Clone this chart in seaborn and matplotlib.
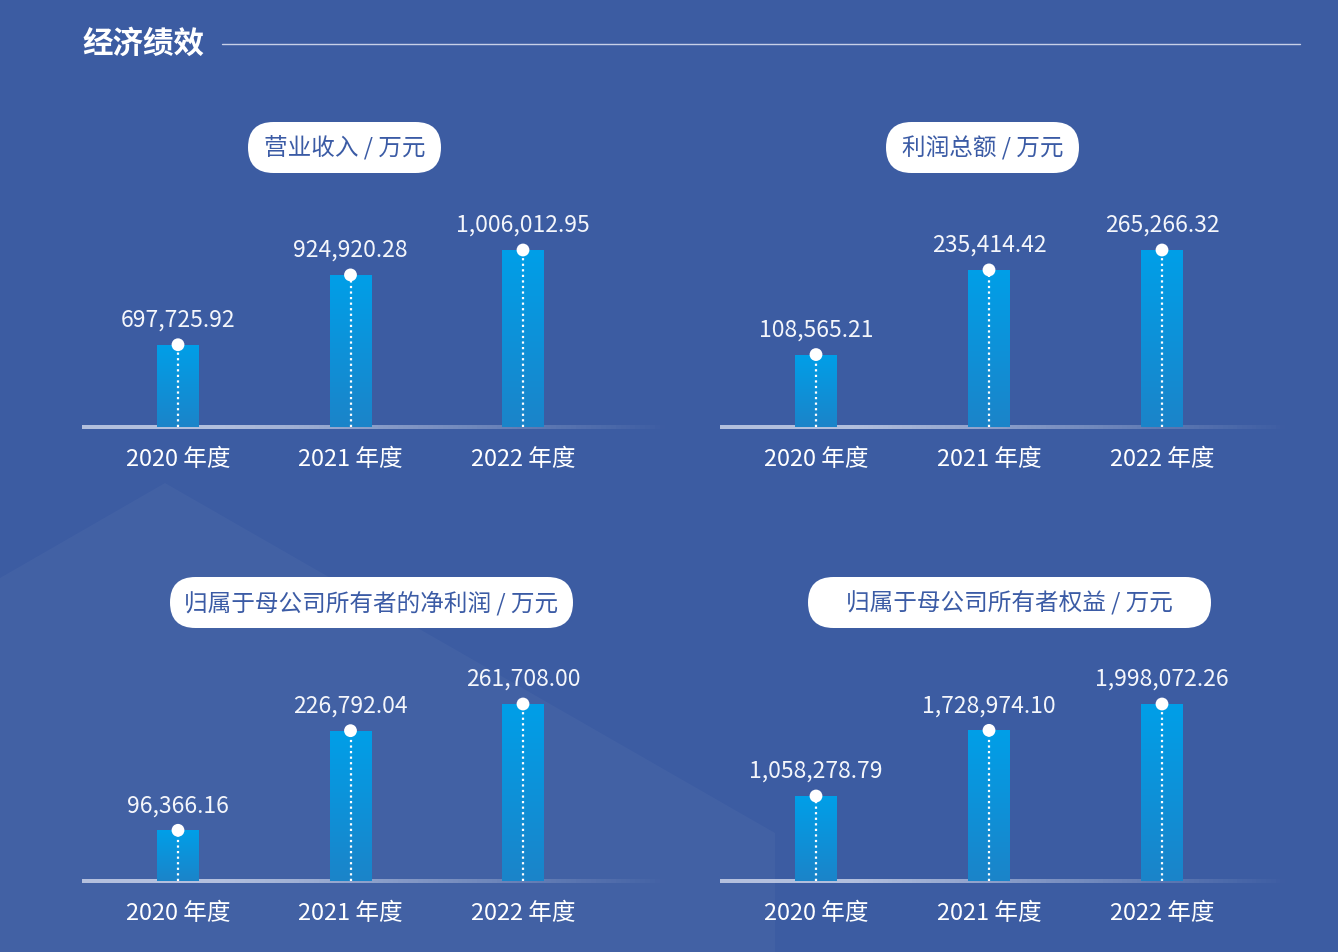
import matplotlib
matplotlib.use("Agg")
import matplotlib.pyplot as plt
import seaborn as sns
import numpy as np
from matplotlib.patches import FancyBboxPatch, Polygon
from matplotlib.collections import LineCollection

sns.set_style("white")
plt.rcParams['font.family'] = ['Noto Sans CJK SC', 'DejaVu Sans']

# data
years = ["2020 年度", "2021 年度", "2022 年度"]
revenue = [697725.92, 924920.28, 1006012.95]
total_profit = [108565.21, 235414.42, 265266.32]
net_profit = [96366.16, 226792.04, 261708.00]
equity = [1058278.79, 1728974.10, 1998072.26]
titles = ["营业收入 / 万元", "利润总额 / 万元",
          "归属于母公司所有者的净利润 / 万元", "归属于母公司所有者权益 / 万元"]
page_title = "经济绩效"

W, H = 1338, 952
BG = "#3c5ca2"
fig = plt.figure(figsize=(W / 100, H / 100), dpi=100, facecolor=BG)

# background layer in pixel coordinates
bg = fig.add_axes([0, 0, 1, 1], zorder=-1)
bg.set_xlim(0, W)
bg.set_ylim(H, 0)
bg.axis("off")
bg.add_patch(Polygon([(0, 578), (165, 483), (775, 833), (775, H), (0, H)],
                     closed=True, fc="white", ec="none", alpha=0.03))
bg.text(82, 44, page_title, color="white", fontsize=22, fontweight="bold",
        ha="left", va="center")
bg.plot([222, 1300], [44, 44], color="#c8d0e8", lw=1)

# panel layout: (left px, right px, baseline px, centre of first bar, spacing, ymin, pill box)
panels = [
    (82, 670, 427, 178, 172.5, 430000, (248, 441, 122, 173)),
    (720, 1290, 427, 816, 173.0, 0, (886, 1079, 122, 173)),
    (82, 670, 881, 178, 172.5, 30000, (170, 573, 577, 628)),
    (720, 1290, 881, 816, 173.0, 190000, (808, 1211, 577, 628)),
]
series = [revenue, total_profit, net_profit, equity]

grad = np.linspace(0, 1, 256).reshape(-1, 1)
cmap = matplotlib.colors.LinearSegmentedColormap.from_list("bar", ["#1b84c9", "#009fe8"])

for (x0, x1, base, c0, step, ymin, pill), vals, title in zip(panels, series, titles):
    ax = fig.add_axes([x0 / W, (H - base) / H, (x1 - x0) / W, 177 / H])
    ax.set_facecolor("none")
    sns.barplot(x=years, y=vals, ax=ax, width=0.24, color="#0e93dc",
                saturation=1, edgecolor="none")
    xl = ((x0 - c0) / step, (x1 - c0) / step)
    yl = (ymin, max(vals))
    for p in ax.patches:
        bx, bw = p.get_x(), p.get_width()
        im = ax.imshow(grad, cmap=cmap, aspect="auto", origin="lower",
                       extent=(bx, bx + bw, ymin, p.get_height()), zorder=2)
        im.set_clip_path(p)
    for i, v in enumerate(vals):
        ax.plot([i, i], [ymin, v], color="white", lw=1.6,
                linestyle=(0, (1, 1.5)), zorder=3)
        ax.scatter([i], [v], s=85, color="white", zorder=4, clip_on=False,
                   edgecolor="none")
        ax.annotate(f"{v:,.2f}", (i, v), xytext=(0, 13), textcoords="offset points",
                    ha="center", va="baseline", color="#f4f6fb", fontsize=16.5,
                    fontweight="light", annotation_clip=False)
    ax.set_xlim(*xl)
    ax.set_ylim(*yl)
    ax.set_yticks([])
    ax.set_xlabel("")
    ax.tick_params(axis="x", length=0, pad=15, labelsize=17, labelcolor="white")
    sns.despine(ax=ax, left=True, bottom=True)

    # fading baseline
    xs = np.linspace(x0, x1, 120)
    segs = [[(xs[k], base), (xs[k + 1], base)] for k in range(len(xs) - 1)]
    alphas = np.clip(1.3 - np.linspace(0, 1, len(segs)) * 1.3, 0, 1) * 0.8
    cols = [(0.82, 0.85, 0.93, a) for a in alphas]
    bg.add_collection(LineCollection(segs, colors=cols, linewidths=1.6,
                                     capstyle="butt", antialiaseds=False))

    # pill title
    px0, px1, py0, py1 = pill
    r = (py1 - py0) / 2
    bg.add_patch(FancyBboxPatch((px0, py0), px1 - px0, py1 - py0,
                                boxstyle=f"round,pad=0,rounding_size={r}",
                                fc="white", ec="none"))
    bg.text((px0 + px1) / 2, (py0 + py1) / 2 + 1, title, color="#3b5ba5",
            fontsize=17, ha="center", va="center")

fig.savefig("out.png", dpi=100, facecolor=BG)
